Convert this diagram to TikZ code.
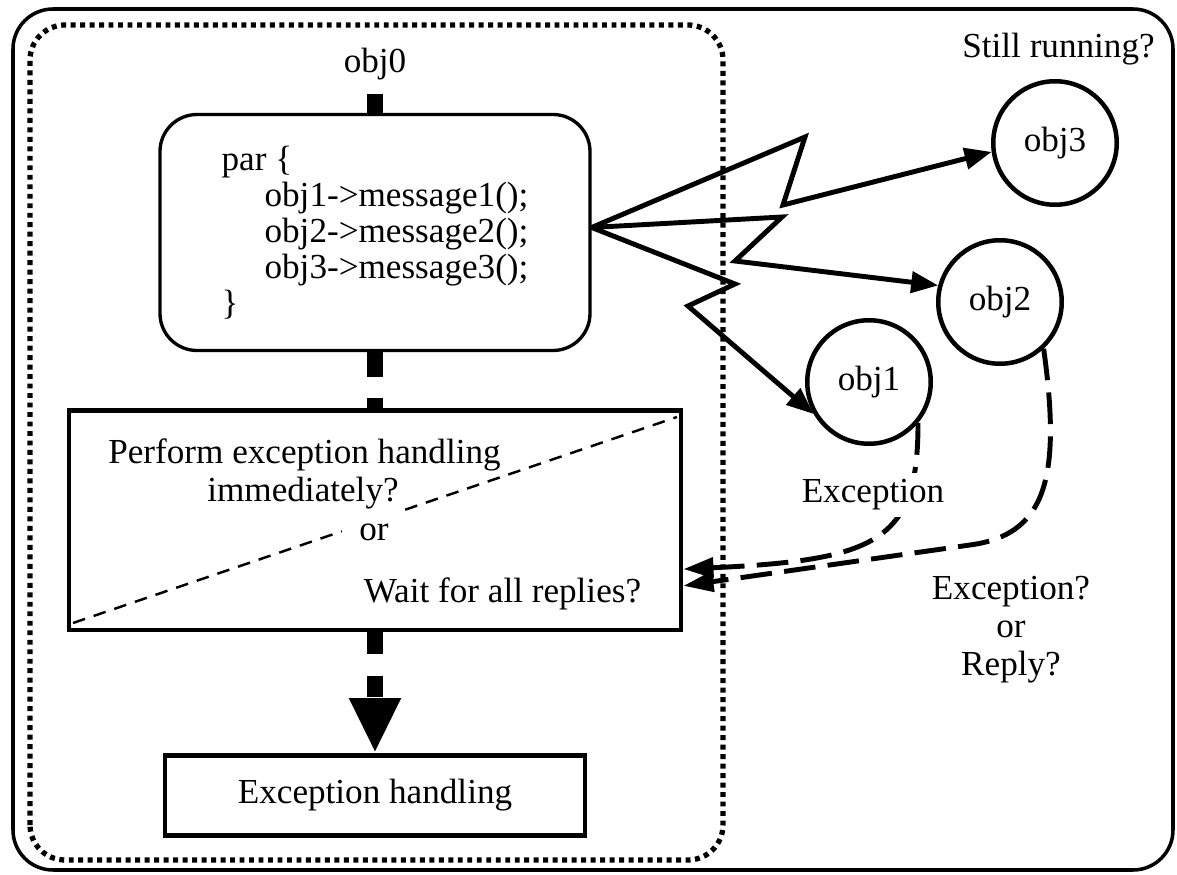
\documentclass[tikz,border=0pt]{standalone}
\usepackage{fontspec}
\setmainfont{Liberation Serif}
\usetikzlibrary{arrows.meta,calc}

\begin{document}
\begin{tikzpicture}[
  every node/.style={font=\fontsize{10pt}{10.25pt}\selectfont},
  objnode/.style={draw, circle, line width=1.28pt, minimum size=1.235cm, inner sep=0pt},
  boxnode/.style={draw, line width=1.42pt, inner sep=0pt},
  flowbar/.style={line width=4.6pt},
  msgarrow/.style={line width=1.4pt, -{Triangle[length=0.27cm,width=0.21cm]}},
  replyline/.style={line width=1.4pt, dash pattern=on 9pt off 3.5pt, -{Triangle[length=0.3cm,width=0.2cm]}}
]
\useasboundingbox (0,0) rectangle (11.77,8.74);

% frames
\draw[line width=1pt, rounded corners=0.4cm] (0.13,0.04) rectangle (11.73,8.65);
\draw[line width=1.5pt, dash pattern=on 1.4pt off 1.3pt, rounded corners=0.35cm] (0.30,0.14) rectangle (7.23,8.49);

% obj0 side
\node[inner sep=0pt] (obj0) at (3.75,8.10) {obj0};
\node[draw, line width=0.95pt, rounded corners=0.37cm, minimum width=4.30cm, minimum height=2.36cm, align=left] (par) at (3.75,6.415)
  {par \{\\
   \hspace*{0.43cm}obj1->message1();\\
   \hspace*{0.43cm}obj2->message2();\\
   \hspace*{0.43cm}obj3->message3();\\
   \}};
\node[boxnode, minimum width=6.12cm, minimum height=2.195cm] (choice) at (3.75,3.5375) {};
\node[boxnode, minimum width=4.20cm, minimum height=0.80cm] (handling) at (3.75,0.785) {Exception handling};

\coordinate (dsw) at ($(choice.south west)+(0.065,0.095)$);
\coordinate (dne) at ($(choice.north east)+(-0.065,-0.09)$);
\draw[line width=0.7pt, dash pattern=on 3.6pt off 2.6pt] (dsw) -- ($(dsw)!0.445!(dne)$) ($(dsw)!0.55!(dne)$) -- (dne);

\node[anchor=base] (ask1) at (3.045,4.11) {Perform exception handling};
\node[anchor=base] (ask2) at (3.03,3.72) {immediately?};
\node[anchor=base] (askor) at (3.74,3.34) {or};
\node[anchor=base] (ask3) at (5.025,2.71) {Wait for all replies?};

\draw[flowbar, shorten <=0.13cm] (obj0) -- (par);
\draw[flowbar, dash pattern=on 7.1pt off 6pt] (par) -- (choice);
\draw[flowbar, dash pattern=on 6pt off 6.3pt, -{Triangle[length=0.55cm,width=0.48cm]}] (choice) -- (handling);

% called objects
\node[objnode] (obj3) at (10.55,7.31) {obj3};
\node[objnode] (obj2) at (10.00,5.72) {obj2};
\node[objnode] (obj1) at (8.69,4.92) {obj1};
\node[anchor=base] (running) at (10.585,8.16) {Still running?};

% messages
\coordinate (fork) at ([yshift=0.05cm]par.east);
\draw[msgarrow] (fork) -- (8.05,7.37) -- (7.83,6.69) -- (obj3.188);
\draw[msgarrow] (fork) -- (7.82,6.57) -- (7.35,6.13) -- (obj2.165);
\draw[msgarrow] (fork) -- (7.35,5.90) -- (6.88,5.68) -- (obj1.210);

% replies
\draw[replyline] (obj1.320) .. controls (9.18,3.34) and (8.80,3.14) .. (choice.351);
\draw[replyline] (obj2.313) .. controls (10.62,3.94) and (10.45,3.39) .. (9.70,3.29) -- (choice.348);
\node[fill=white, inner sep=2pt] (exclabel) at (8.73,3.79) {Exception};
\node[align=center, font=\fontsize{10pt}{10.8pt}\selectfont] (replyq) at (10.11,2.44) {Exception?\\or\\Reply?};
\end{tikzpicture}
\end{document}
